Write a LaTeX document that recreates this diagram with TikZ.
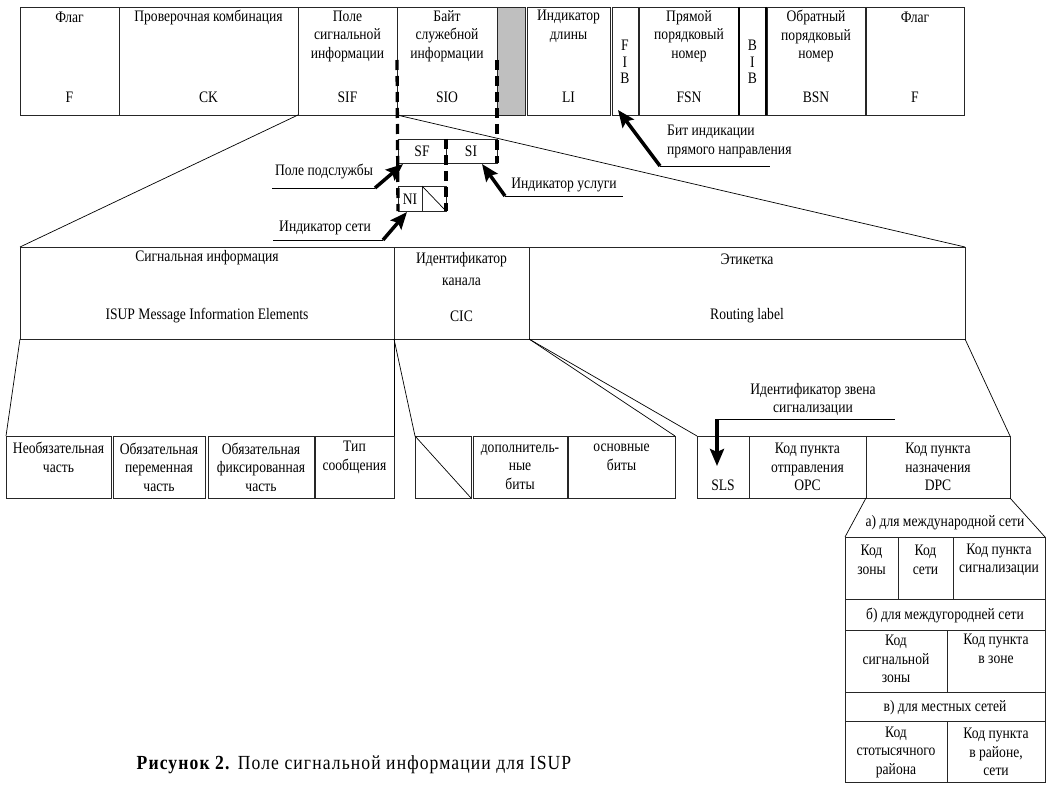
\documentclass[tikz,border=0pt]{standalone}
\usepackage{fontspec}
\setmainfont{Liberation Serif}[FakeStretch=0.85]
\newfontfamily\capfont{Liberation Serif}[FakeStretch=0.88,LetterSpace=5.5]
\usetikzlibrary{arrows.meta}
\tikzset{
 cellbox/.style={draw=black!85, line width=0.8pt, inner sep=0pt, outer sep=0pt, rectangle},
 lbl/.style={inner sep=0pt, align=center, font=\fontsize{16}{18.5}\selectfont},
 fanline/.style={line width=0.7pt},
 uline/.style={line width=0.7pt},
 thickrule/.style={line width=1.8pt},
 pointer/.style={line width=3.5pt, -{Stealth[length=17pt,width=14pt,inset=3pt]}},
 dashv/.style={line width=3.3pt, dash pattern=on 10pt off 6pt},
}
\newcommand{\cell}[6][]{\node[cellbox,#1,anchor=north west,minimum width={(#5-#3)*1pt},minimum height={(#6-#4)*1pt}] (#2) at (#3,#4) {};}
\begin{document}
\begin{tikzpicture}[x=1pt,y=-1pt]
\useasboundingbox (0,0) rectangle (1048,794);
% ---------- top row ----------
\cell{tF}{20}{7}{119}{115}
\cell{tCK}{119}{7}{298}{115}
\cell{tSIF}{298}{7}{397}{115}
\cell{tSIO}{397}{7}{497}{115}
\cell[fill=gray!50]{tGr}{497}{7}{525}{115}
\cell{tLI}{527}{7}{610}{115}
\cell{tFIB}{612}{7}{638}{115}
\cell{tFSN}{639}{7}{739}{115}
\cell{tBIB}{739}{7}{766}{115}
\draw[thickrule] (tBIB.north west) -- (tBIB.south west);
\draw[thickrule] (tBIB.north east) -- (tBIB.south east);
\cell{tBSN}{767}{7}{865}{115}
\cell{tF2}{866}{7}{964}{115}
\node[lbl] (l1) at (69.5,17) {Флаг};
\node[lbl] (l1b) at (69.5,97) {F};
\node[lbl] (l2) at (208.5,17) {Проверочная комбинация};
\node[lbl] (l2b) at (208.5,97) {CK};
\node[lbl] (l3) at (347.5,36) {Поле\\сигнальной\\информации};
\node[lbl] (l3b) at (347.5,97) {SIF};
\node[lbl] (l4) at (447,36) {Байт\\служебной\\информации};
\node[lbl] (l4b) at (447,97) {SIO};
\node[lbl] (l5) at (568.5,26.5) {Индикатор\\длины};
\node[lbl] (l5b) at (568.5,97) {LI};
\node[lbl,font=\fontsize{16}{16.5}\selectfont] (l6) at (625,62) {F\\I\\B};
\node[lbl] (l7) at (689,36) {Прямой\\порядковый\\номер};
\node[lbl] (l7b) at (689,97) {FSN};
\node[lbl,font=\fontsize{16}{16.5}\selectfont] (l8) at (752.5,62) {B\\I\\B};
\node[lbl] (l9) at (816,36) {Обратный\\порядковый\\номер};
\node[lbl] (l9b) at (816,97) {BSN};
\node[lbl] (l10) at (915,17) {Флаг};
\node[lbl] (l10b) at (915,97) {F};
% ---------- SIO detail ----------
\cell{SF}{398}{139}{446}{163}
\cell{SI}{446}{139}{497}{163}
\node[lbl] (lSF) at (422,151) {SF};
\node[lbl] (lSI) at (471,151) {SI};
\cell{NIa}{398}{186}{422}{211}
\cell{NIb}{422}{186}{446}{211}
\node[lbl] (lNI) at (410,199) {NI};
\draw[fanline] (NIb.north west) -- (NIb.south east);
\coordinate (dLtop) at (397,60);
\coordinate (dRtop) at (497,60);
\draw[dashv] (dLtop) -- (NIa.south west);
\draw[dashv] (SF.north east) -- (NIb.south east);
\draw[dashv] (dRtop) -- (SI.south east);
% ---------- pointers ----------
\node[lbl] (tA1) at (324,172) {Поле подслужбы};
\coordinate (uA1s) at (272,188); \coordinate (uA1e) at (375,188);
\draw[uline] (uA1s) -- (uA1e);
\coordinate (pA1) at (403,164);
\draw[pointer] (uA1e) -- (pA1);
\node[lbl] (tA2) at (325,228) {Индикатор сети};
\coordinate (uA2s) at (273,240); \coordinate (uA2e) at (383,240);
\draw[uline] (uA2s) -- (uA2e);
\coordinate (pA2) at (407,212);
\draw[pointer] (uA2e) -- (pA2);
\node[lbl] (tA3) at (564,185) {Индикатор услуги};
\coordinate (uA3s) at (505,196); \coordinate (uA3e) at (623,196);
\draw[uline] (uA3s) -- (uA3e);
\coordinate (pA3) at (482,164);
\draw[pointer] (uA3s) -- (pA3);
\node[lbl,align=left,anchor=west] (tA4) at (667,141.5) {Бит индикации\\прямого направления};
\coordinate (uA4s) at (660,166); \coordinate (uA4e) at (770,166);
\draw[uline] (uA4s) -- (uA4e);
\coordinate (pA4) at (618,110);
\draw[pointer] (uA4s) -- (pA4);
% ---------- middle row ----------
\cell{mSig}{20}{247}{394}{339}
\cell{mCIC}{394}{247}{529}{339}
\cell{mRL}{529}{247}{965}{339}
\node[lbl] (m1) at (207,258) {Сигнальная информация};
\node[lbl] (m1b) at (207,316) {ISUP Message Information Elements};
\node[lbl,font=\fontsize{16}{22}\selectfont] (m2) at (461.5,269) {Идентификатор\\канала};
\node[lbl] (m2b) at (461.5,316) {CIC};
\node[lbl] (m3) at (747,259) {Этикетка};
\node[lbl] (m3b) at (747,316) {Routing label};
\draw[fanline] (tSIF.south west) -- (mSig.north west);
\draw[fanline] (tSIF.south east) -- (mRL.north east);
% ---------- bottom row ----------
\cell{b1}{6}{436}{111}{498}
\cell{b2}{113}{436}{205}{498}
\cell{b3}{208}{436}{314}{498}
\cell{b4}{315}{436}{394}{498}
\node[lbl] (lb1) at (58.5,457.5) {Необязательная\\часть};
\node[lbl] (lb2) at (159,467) {Обязательная\\переменная\\часть};
\node[lbl] (lb3) at (261,467) {Обязательная\\фиксированная\\часть};
\node[lbl] (lb4) at (354.5,457.5) {Тип\\сообщения};
\cell{c1}{415}{436}{471}{498}
\cell{c2}{473}{436}{567}{498}
\cell{c3}{568}{436}{675}{498}
\draw[fanline] (c1.north west) -- (c1.south east);
\node[lbl] (lc2) at (520,467) {дополнитель-\\ные\\биты};
\node[lbl] (lc3) at (621.5,457.5) {основные\\биты};
\cell{r1}{697}{436}{749}{498}
\cell{r2}{749}{436}{866}{498}
\cell{r3}{866}{436}{1010}{498}
\node[lbl] (lr1) at (723,485) {SLS};
\node[lbl] (lr2) at (807.5,467) {Код пункта\\отправления\\OPC};
\node[lbl] (lr3) at (938,467) {Код пункта\\назначения\\DPC};
\draw[fanline] (mSig.south west) -- (b1.north west);
\draw[fanline] (mSig.south east) -- (b4.north east);
\draw[fanline] (mCIC.south west) -- (c1.north west);
\draw[fanline] (mCIC.south east) -- (c3.north east);
\draw[fanline] (mRL.south west) -- (r1.north west);
\draw[fanline] (mRL.south east) -- (r3.north east);
% SLS pointer
\node[lbl] (tA5) at (813,399.5) {Идентификатор звена\\сигнализации};
\coordinate (uA5s) at (717,419); \coordinate (uA5e) at (895,419);
\draw[uline] (uA5s) -- (uA5e);
\coordinate (pA5) at (717,466);
\draw[pointer] (uA5s) -- (pA5);
% ---------- DPC table ----------
\cell{ta1}{845}{537}{898}{599}
\cell{ta2}{898}{537}{953}{599}
\cell{ta3}{953}{537}{1045}{599}
\draw[fanline] (r3.south west) -- (ta1.north west);
\draw[fanline] (r3.south east) -- (ta3.north east);
\node[lbl] (lta) at (945,523) {а) для международной сети};
\node[lbl] (lta1) at (871.5,560) {Код\\зоны};
\node[lbl] (lta2) at (925.5,560) {Код\\сети};
\node[lbl] (lta3) at (999,560) {Код пункта\\сигнализации};
\cell{tb}{845}{599}{1045}{630}
\node[lbl] (ltb) at (945,615) {б) для междугородней сети};
\cell{tb1}{845}{630}{947}{692}
\cell{tb2}{947}{630}{1045}{692}
\node[lbl] (ltb1) at (896,659) {Код\\сигнальной\\зоны};
\node[lbl] (ltb2) at (996,649) {Код пункта\\в зоне};
\cell{tv}{845}{692}{1045}{721}
\node[lbl] (ltv) at (945,708) {в) для местных сетей};
\cell{tv1}{845}{721}{947}{782}
\cell{tv2}{947}{721}{1045}{782}
\node[lbl] (ltv1) at (896,752) {Код\\стотысячного\\района};
\node[lbl] (ltv2) at (996,752) {Код пункта\\в районе,\\сети};
% ---------- caption ----------
\node[inner sep=0pt,font=\fontsize{20}{24}\capfont] (cap) at (354,765) {\textbf{Рисунок 2.} Поле сигнальной информации для ISUP};
\end{tikzpicture}
\end{document}
